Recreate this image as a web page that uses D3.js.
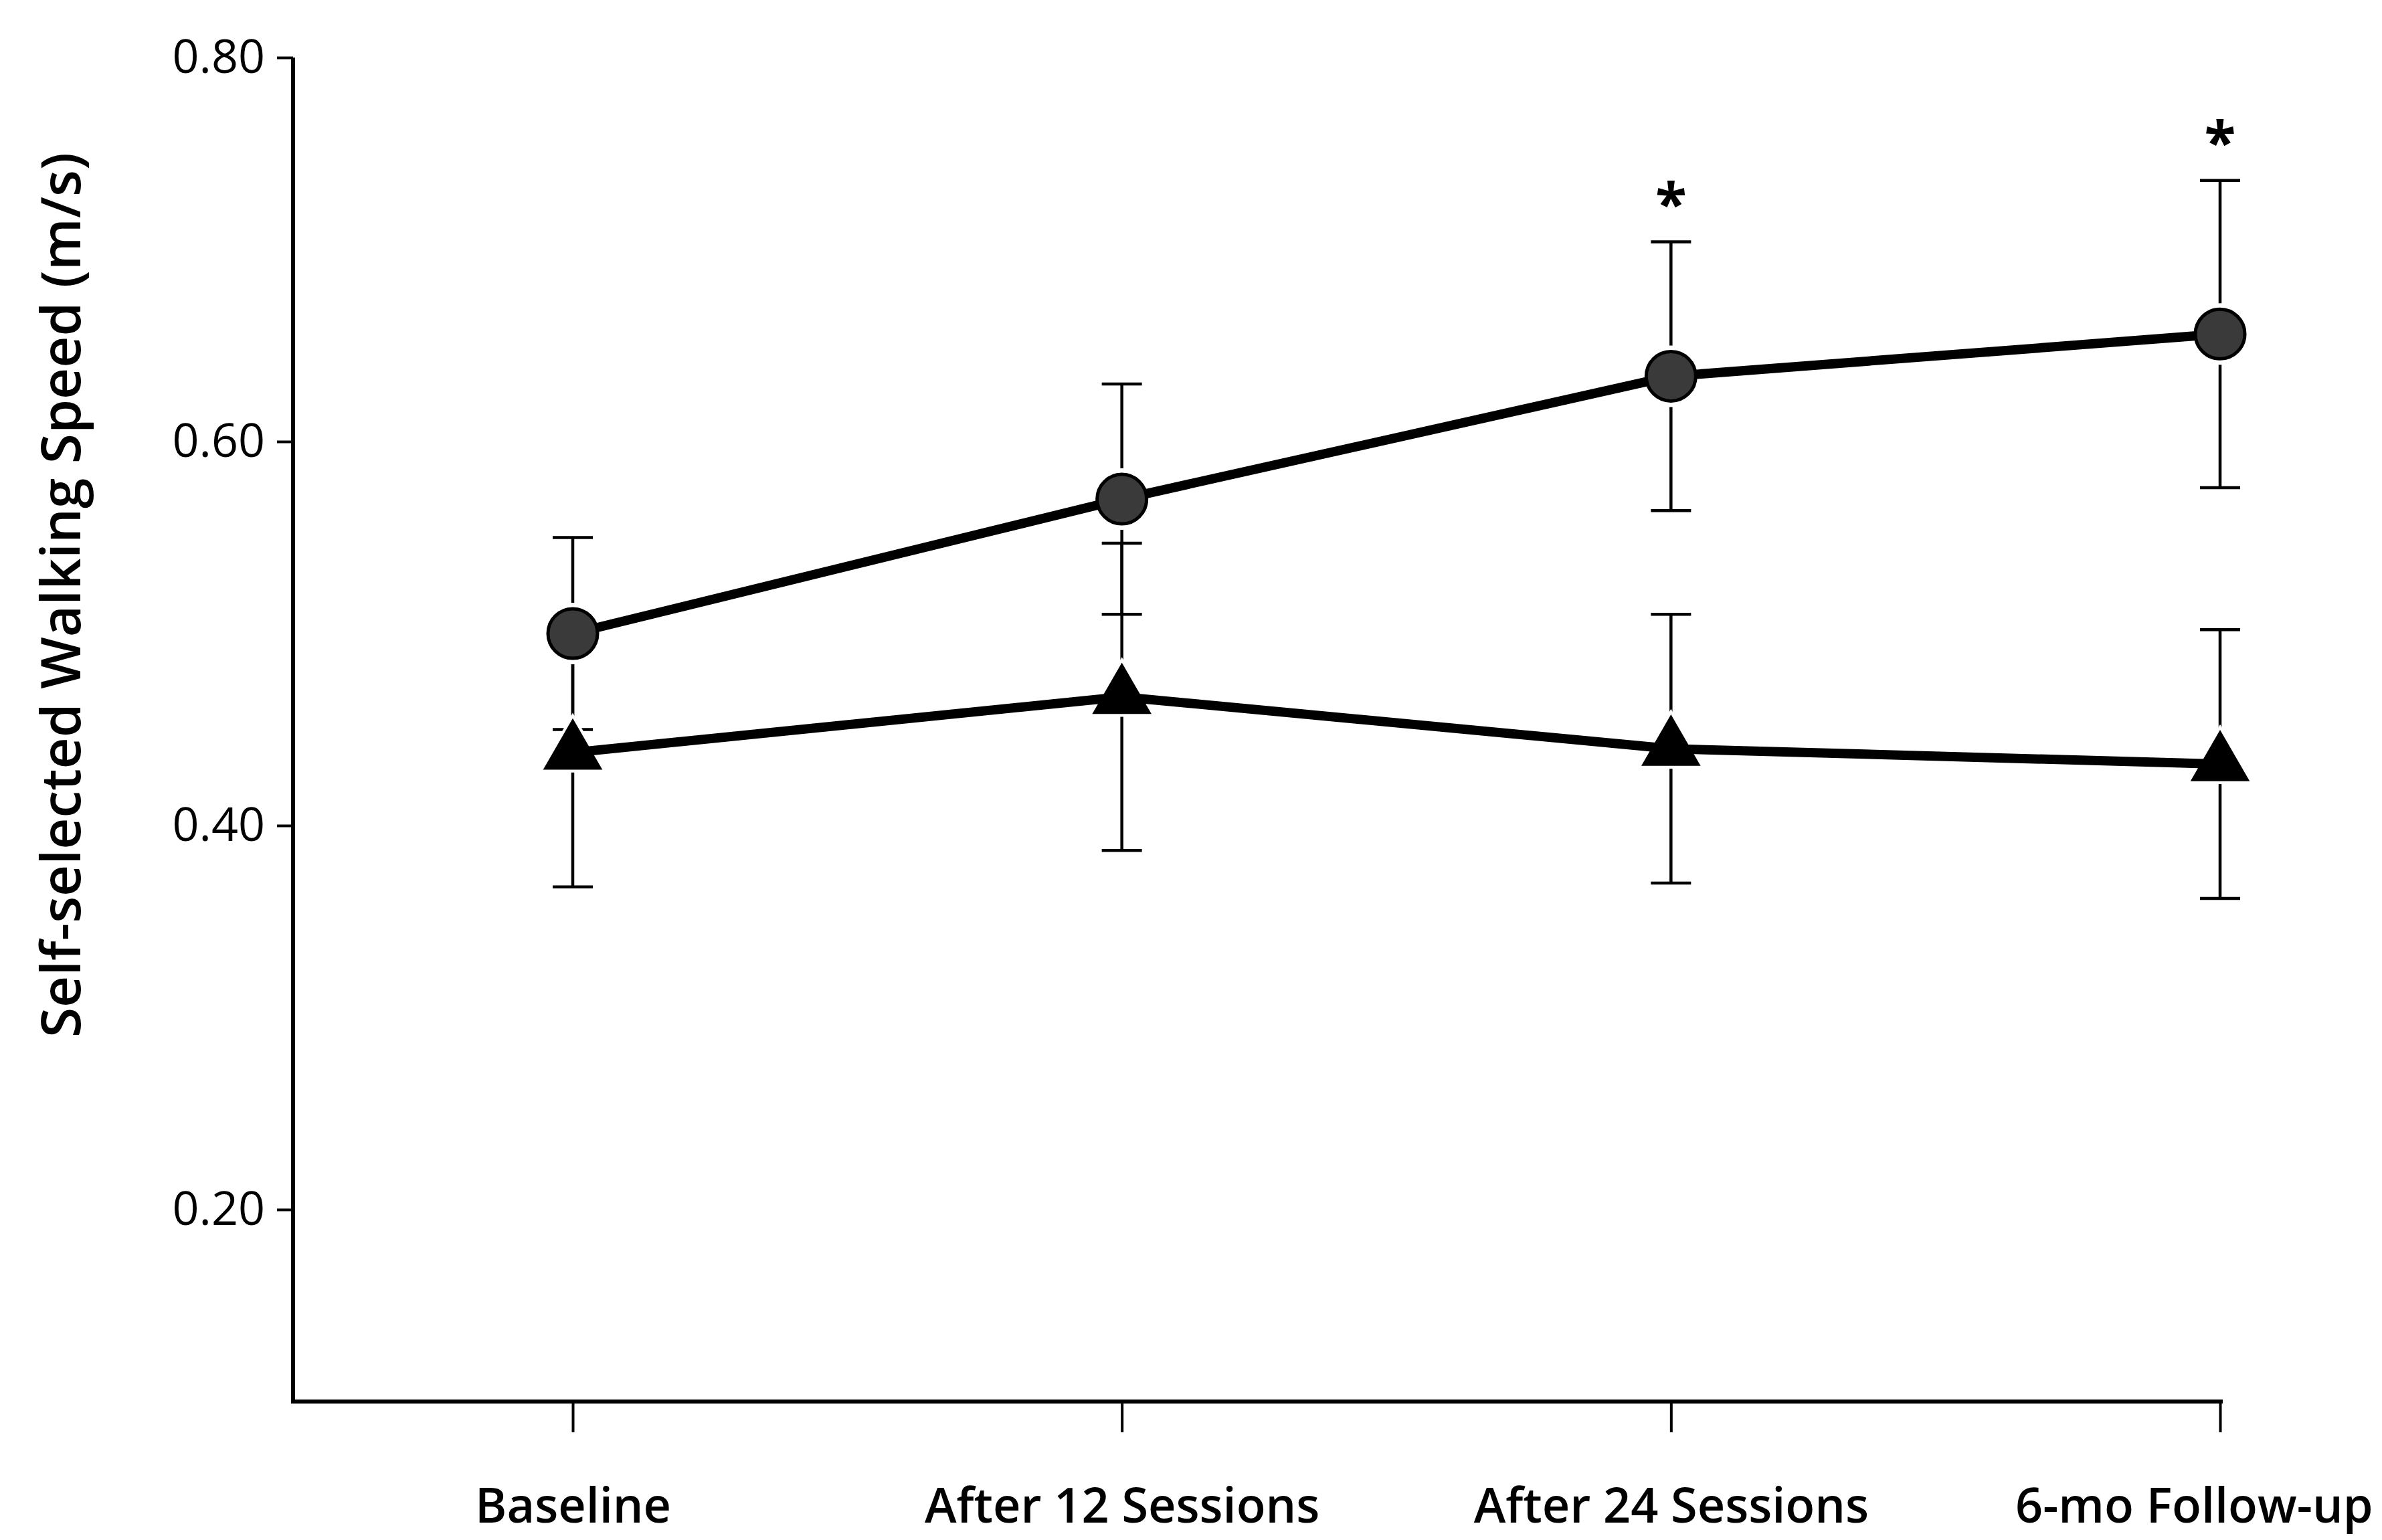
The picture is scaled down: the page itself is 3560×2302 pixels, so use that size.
<!DOCTYPE html>
<html lang="en">
<head>
<meta charset="UTF-8">
<title>Self-selected Walking Speed</title>
<script src="https://cdn.jsdelivr.net/npm/d3@7"></script>
<style>
  body { margin: 0; background: #fff; }
  svg { display: block; }
</style>
</head>
<body>
<div id="chart"></div>
<script>
  // values
  const phases = ["Baseline", "After 12 Sessions", "After 24 Sessions", "6-mo Follow-up"];
  const circleMean = [0.50, 0.57, 0.634, 0.656];
  const circleSD   = [0.05, 0.06, 0.07, 0.08];
  const triMean    = [0.438, 0.467, 0.44, 0.432];
  const triSD      = [0.07, 0.08, 0.07, 0.07];
  const significant = [false, false, true, true];
  const yTicks = [0.20, 0.40, 0.60, 0.80];

  const W = 3560, H = 2302;
  const axisX = 438, axisBottom = 2095;

  const svg = d3.select("#chart").append("svg")
      .attr("width", W)
      .attr("height", H);
  svg.append("rect").attr("width", W).attr("height", H).attr("fill", "#fff");

  const x = d3.scalePoint().domain(phases).range([856, 3318]);
  const y = d3.scaleLinear().domain([0.1, 0.8]).range([axisBottom, 86]);

  const circles = phases.map((p, i) => ({p, m: circleMean[i], sd: circleSD[i], star: significant[i]}));
  const tris = phases.map((p, i) => ({p, m: triMean[i], sd: triSD[i]}));

  // axes
  const yAxis = svg.append("g")
      .attr("transform", `translate(${axisX},0)`)
      .call(d3.axisLeft(y).tickValues(yTicks).tickFormat(d3.format(".2f")).tickSize(24).tickSizeOuter(0).tickPadding(18));
  yAxis.select(".domain").remove();
  yAxis.selectAll("line").attr("stroke", "#000").attr("stroke-width", 4);
  yAxis.selectAll("text")
      .attr("font-family", "'Open Sans', sans-serif")
      .attr("font-size", 70)
      .attr("fill", "#000");

  svg.append("line")
      .attr("x1", axisX).attr("x2", axisX)
      .attr("y1", y(0.8)).attr("y2", axisBottom)
      .attr("stroke", "#000").attr("stroke-width", 6);
  svg.append("line")
      .attr("x1", axisX - 3).attr("x2", 3322)
      .attr("y1", axisBottom).attr("y2", axisBottom)
      .attr("stroke", "#000").attr("stroke-width", 6);

  const xAxis = svg.append("g")
      .attr("transform", `translate(0,${axisBottom})`)
      .call(d3.axisBottom(x).tickSize(46).tickSizeOuter(0).tickPadding(84));
  xAxis.select(".domain").remove();
  xAxis.selectAll("line").attr("stroke", "#000").attr("stroke-width", 4);
  xAxis.selectAll("text")
      .attr("font-family", "'Open Sans', sans-serif")
      .attr("font-weight", 600)
      .attr("font-size", 72)
      .attr("fill", "#000");
  // keep the last label inside the page
  xAxis.selectAll("text").each(function(d) {
    const b = this.getBBox(), right = x(d) + b.x + b.width;
    if (right > W - 14) d3.select(this).attr("x", W - 14 - right);
  });

  svg.append("text")
      .attr("transform", `translate(120,${y(0.52)}) rotate(-90)`)
      .attr("text-anchor", "middle")
      .attr("font-family", "'Open Sans', sans-serif")
      .attr("font-weight", 600)
      .attr("font-size", 82)
      .text("Self-selected Walking Speed (m/s)");

  // error bars
  const capW = 30;
  function errorBars(data) {
    const g = svg.append("g").attr("stroke", "#000").attr("stroke-width", 4.5);
    data.forEach(d => {
      const cx = x(d.p);
      g.append("line").attr("x1", cx).attr("x2", cx).attr("y1", y(d.m + d.sd)).attr("y2", y(d.m - d.sd));
      g.append("line").attr("x1", cx - capW).attr("x2", cx + capW).attr("y1", y(d.m + d.sd)).attr("y2", y(d.m + d.sd));
      g.append("line").attr("x1", cx - capW).attr("x2", cx + capW).attr("y1", y(d.m - d.sd)).attr("y2", y(d.m - d.sd));
    });
  }
  errorBars(tris);
  errorBars(circles);

  const triSym = d3.symbol(d3.symbolTriangle).size(3400);

  // white halos break the error bars around markers
  svg.append("g").selectAll("circle").data(circles).join("circle")
      .attr("cx", d => x(d.p)).attr("cy", d => y(d.m)).attr("r", 46).attr("fill", "#fff");
  svg.append("g").selectAll("path").data(tris).join("path")
      .attr("transform", d => `translate(${x(d.p)},${y(d.m)})`)
      .attr("d", d3.symbol(d3.symbolTriangle).size(4600)).attr("fill", "#fff");

  const line = d3.line().x(d => x(d.p)).y(d => y(d.m));
  [circles, tris].forEach(s => {
    svg.append("path").datum(s)
        .attr("d", line)
        .attr("fill", "none")
        .attr("stroke", "#000")
        .attr("stroke-width", 14)
        .attr("stroke-linejoin", "round");
  });

  svg.append("g").selectAll("circle").data(circles).join("circle")
      .attr("cx", d => x(d.p)).attr("cy", d => y(d.m)).attr("r", 37)
      .attr("fill", "#3a3a3a").attr("stroke", "#000").attr("stroke-width", 5);
  svg.append("g").selectAll("path").data(tris).join("path")
      .attr("transform", d => `translate(${x(d.p)},${y(d.m)})`)
      .attr("d", triSym).attr("fill", "#000");

  svg.append("g").selectAll("text").data(circles.filter(d => d.star)).join("text")
      .attr("x", d => x(d.p)).attr("y", d => y(d.m + d.sd) - 26)
      .attr("text-anchor", "middle")
      .attr("font-family", "'Open Sans', sans-serif")
      .attr("font-weight", 700)
      .attr("font-size", 86)
      .text("*");
</script>
</body>
</html>
